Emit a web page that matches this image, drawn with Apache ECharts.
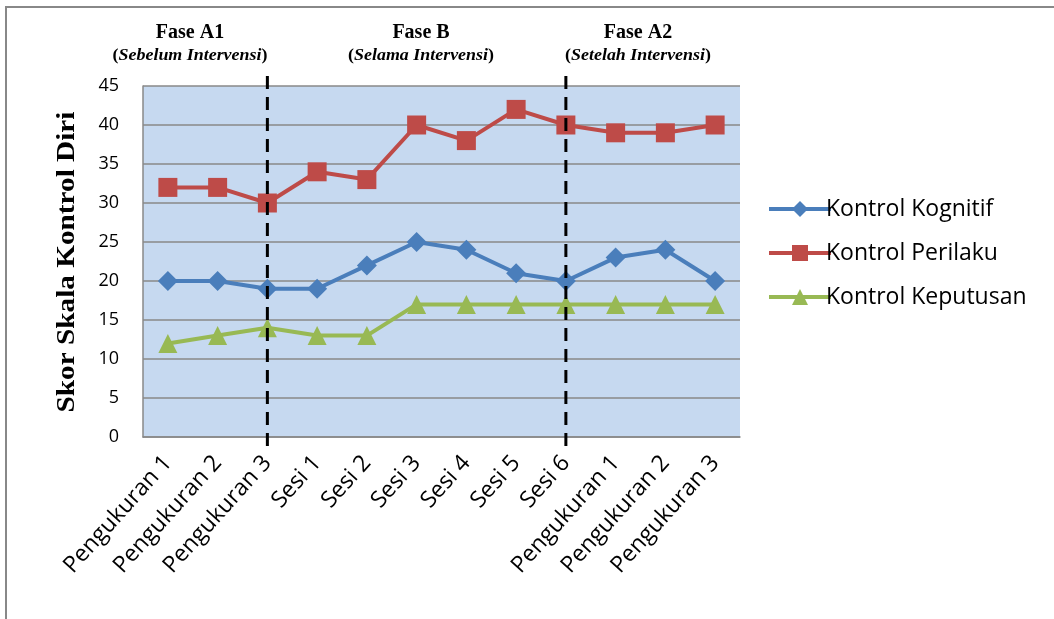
<!DOCTYPE html>
<html>
<head>
<meta charset="utf-8">
<script src="https://cdn.jsdelivr.net/npm/echarts@6/dist/echarts.min.js"></script>
<style>
  html, body { margin: 0; padding: 0; background: #fff; }
  #main { width: 1054px; height: 619px; }
</style>
</head>
<body>
<div id="main"></div>
<script>
var categories = ['Pengukuran 1', 'Pengukuran 2', 'Pengukuran 3', 'Sesi 1', 'Sesi 2', 'Sesi 3',
                  'Sesi 4', 'Sesi 5', 'Sesi 6', 'Pengukuran 1', 'Pengukuran 2', 'Pengukuran 3'];
var kognitif = [20, 20, 19, 19, 22, 25, 24, 21, 20, 23, 24, 20];
var perilaku = [32, 32, 30, 34, 33, 40, 38, 42, 40, 39, 39, 40];
var keputusan = [12, 13, 14, 13, 13, 17, 17, 17, 17, 17, 17, 17];
var yTicks = [0, 5, 10, 15, 20, 25, 30, 35, 40, 45];
// fase dividers sit on these category indexes
var phaseBreaks = [2, 8];
var phases = [
    { name: 'Fase A1', sub: 'Sebelum Intervensi', x: 190 },
    { name: 'Fase B', sub: 'Selama Intervensi', x: 421 },
    { name: 'Fase A2', sub: 'Setelah Intervensi', x: 638 }
];

var labelFont = '"Open Sans", sans-serif';
var serif = '"Liberation Serif", "DejaVu Serif", serif';

var myChart = echarts.init(document.getElementById('main'));

function mkSeries(name, data, color, symbol, size) {
    return {
        name: name,
        type: 'line',
        data: data,
        symbol: symbol,
        symbolSize: size,
        showAllSymbol: true,
        lineStyle: { color: color, width: 4 },
        itemStyle: { color: color },
        emphasis: { disabled: true }
    };
}

var option = {
    animation: false,
    grid: {
        left: 143, top: 86, width: 597, bottom: 182,
        show: true, backgroundColor: '#c6d9f0', borderWidth: 0
    },
    legend: {
        orient: 'vertical',
        left: 762,
        top: 191,
        itemGap: 18,
        itemWidth: 62,
        itemHeight: 20,
        lineStyle: { width: 4 },
        textStyle: { fontFamily: labelFont, fontSize: 23, lineHeight: 26, color: '#000', padding: [0, 0, 0, -10] },
        data: ['Kontrol Kognitif', 'Kontrol Perilaku', 'Kontrol Keputusan']
    },
    xAxis: {
        type: 'category',
        data: categories,
        boundaryGap: true,
        axisLine: { lineStyle: { color: '#888', width: 1.5 } },
        axisTick: { show: false },
        axisLabel: {
            interval: 0, rotate: 48, margin: 22,
            fontFamily: labelFont, fontSize: 23, color: '#000'
        }
    },
    yAxis: {
        type: 'value',
        min: yTicks[0],
        max: yTicks[yTicks.length - 1],
        interval: 5,
        axisLine: { show: true, lineStyle: { color: '#888', width: 1.5 } },
        axisTick: { show: false },
        splitLine: { lineStyle: { color: '#888', width: 1.5 } },
        axisLabel: { fontFamily: labelFont, fontSize: 18, color: '#000', margin: 24 }
    },
    series: [
        mkSeries('Kontrol Kognitif', kognitif, '#4a7ebb', 'diamond', 20),
        mkSeries('Kontrol Perilaku', perilaku, '#be4b48', 'rect', 19),
        mkSeries('Kontrol Keputusan', keputusan, '#98b954', 'triangle', 19)
    ]
};
myChart.setOption(option);

// frame, dashed phase lines, phase titles, y axis title
var graphics = [{
    type: 'rect',
    shape: { x: 6, y: 7, width: 1100, height: 700 },
    style: { fill: 'none', stroke: '#888', lineWidth: 2 },
    silent: true
}, {
    type: 'text',
    x: 68, y: 262,
    rotation: Math.PI / 2,
    scaleX: 1.17,
    style: {
        text: 'Skor Skala Kontrol Diri', align: 'center', verticalAlign: 'middle',
        font: 'bold 25px ' + serif, fill: '#000'
    }
}];
phaseBreaks.forEach(function (idx) {
    var px = myChart.convertToPixel({ xAxisIndex: 0 }, idx);
    graphics.push({
        type: 'line',
        shape: { x1: px, y1: 76, x2: px, y2: 450 },
        style: { stroke: '#000', lineWidth: 3, lineDash: [13, 8] },
        z: 100
    });
});
phases.forEach(function (p) {
    graphics.push({
        type: 'text',
        x: p.x, y: 33,
        style: {
            text: p.name, align: 'center', verticalAlign: 'middle',
            font: 'bold 20px ' + serif, fill: '#000'
        }
    });
    graphics.push({
        type: 'text',
        x: p.x, y: 56,
        scaleX: 1.12,
        style: {
            text: '{p|(}{i|' + p.sub + '}{p|)}', align: 'center', verticalAlign: 'middle',
            rich: {
                p: { fontFamily: serif, fontWeight: 'bold', fontSize: 16, fill: '#000' },
                i: { fontFamily: serif, fontWeight: 'bold', fontStyle: 'italic', fontSize: 16, fill: '#000' }
            }
        }
    });
});
myChart.setOption({ graphic: graphics });
</script>
</body>
</html>
